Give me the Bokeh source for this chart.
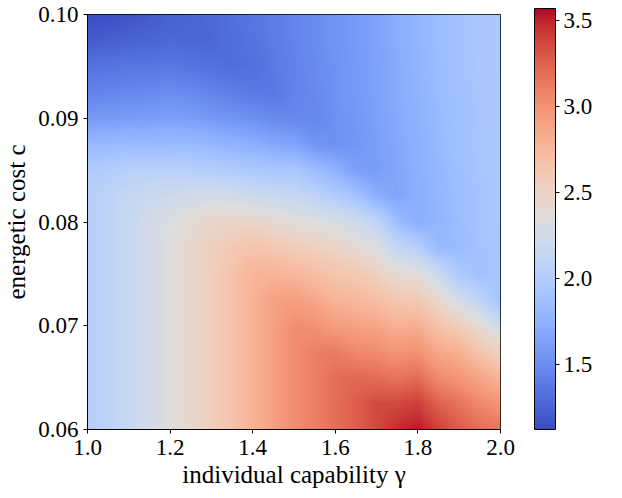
import numpy as np
from bokeh.plotting import figure
from bokeh.models import (LinearColorMapper, ColorBar, FixedTicker,
                          PrintfTickFormatter, Range1d)
from bokeh.embed import file_html
from bokeh.resources import INLINE

# ---- data (value grid) ----
gamma = [1.00, 1.05, 1.10, 1.15, 1.20, 1.25, 1.30, 1.35, 1.40, 1.45, 1.50,
         1.55, 1.60, 1.65, 1.70, 1.75, 1.80, 1.85, 1.90, 1.95, 2.00]
# energetic cost levels, top (0.100) to bottom (0.060)
cost = [0.1000, 0.0975, 0.0950, 0.0925, 0.0900, 0.0875, 0.0850, 0.0825, 0.0800,
        0.0775, 0.0750, 0.0725, 0.0700, 0.0675, 0.0650, 0.0625, 0.0600]

v_g100 = [1.13, 1.21, 1.34, 1.44, 1.58, 1.81, 1.98, 2.03, 2.02, 2.02, 2.02, 2.02, 2.02, 2.02, 2.02, 2.02, 2.02]
v_g105 = [1.14, 1.23, 1.35, 1.45, 1.59, 1.82, 2.01, 2.08, 2.08, 2.08, 2.08, 2.08, 2.08, 2.08, 2.08, 2.08, 2.08]
v_g110 = [1.16, 1.25, 1.36, 1.47, 1.60, 1.83, 2.05, 2.14, 2.15, 2.15, 2.15, 2.15, 2.15, 2.15, 2.15, 2.15, 2.15]
v_g115 = [1.20, 1.26, 1.36, 1.48, 1.61, 1.83, 2.05, 2.18, 2.25, 2.25, 2.25, 2.25, 2.25, 2.25, 2.25, 2.25, 2.25]
v_g120 = [1.24, 1.28, 1.37, 1.50, 1.63, 1.83, 2.05, 2.20, 2.33, 2.35, 2.35, 2.35, 2.35, 2.35, 2.35, 2.35, 2.35]
v_g125 = [1.26, 1.27, 1.35, 1.48, 1.61, 1.82, 2.04, 2.23, 2.40, 2.45, 2.45, 2.45, 2.45, 2.45, 2.45, 2.45, 2.45]
v_g130 = [1.28, 1.27, 1.33, 1.45, 1.58, 1.80, 2.02, 2.27, 2.47, 2.54, 2.54, 2.54, 2.54, 2.54, 2.54, 2.54, 2.54]
v_g135 = [1.32, 1.31, 1.31, 1.41, 1.55, 1.76, 1.99, 2.24, 2.47, 2.60, 2.66, 2.66, 2.66, 2.66, 2.66, 2.66, 2.66]
v_g140 = [1.36, 1.35, 1.33, 1.38, 1.52, 1.73, 1.96, 2.20, 2.48, 2.66, 2.77, 2.79, 2.79, 2.79, 2.79, 2.79, 2.79]
v_g145 = [1.40, 1.39, 1.38, 1.37, 1.48, 1.68, 1.94, 2.17, 2.43, 2.62, 2.78, 2.90, 2.90, 2.90, 2.90, 2.90, 2.90]
v_g150 = [1.44, 1.44, 1.43, 1.43, 1.46, 1.65, 1.95, 2.15, 2.38, 2.57, 2.75, 2.92, 3.03, 3.03, 3.03, 3.03, 3.03]
v_g155 = [1.49, 1.49, 1.48, 1.47, 1.46, 1.55, 1.85, 2.08, 2.34, 2.53, 2.70, 2.86, 3.00, 3.10, 3.10, 3.10, 3.10]
v_g160 = [1.54, 1.54, 1.53, 1.53, 1.52, 1.52, 1.76, 2.00, 2.30, 2.50, 2.64, 2.78, 2.93, 3.12, 3.19, 3.19, 3.19]
v_g165 = [1.59, 1.59, 1.58, 1.58, 1.57, 1.56, 1.62, 1.90, 2.22, 2.42, 2.60, 2.75, 2.90, 3.05, 3.22, 3.27, 3.27]
v_g170 = [1.64, 1.64, 1.63, 1.63, 1.62, 1.61, 1.60, 1.72, 2.12, 2.33, 2.53, 2.70, 2.87, 3.03, 3.20, 3.36, 3.36]
v_g175 = [1.71, 1.71, 1.70, 1.70, 1.69, 1.68, 1.67, 1.66, 1.85, 2.15, 2.40, 2.62, 2.80, 2.98, 3.16, 3.36, 3.47]
v_g180 = [1.78, 1.78, 1.77, 1.76, 1.75, 1.74, 1.73, 1.72, 1.72, 2.05, 2.37, 2.60, 2.82, 3.00, 3.20, 3.40, 3.53]
v_g185 = [1.84, 1.84, 1.83, 1.83, 1.82, 1.81, 1.80, 1.79, 1.78, 1.82, 2.20, 2.45, 2.66, 2.85, 3.05, 3.25, 3.40]
v_g190 = [1.89, 1.89, 1.88, 1.88, 1.87, 1.87, 1.86, 1.85, 1.84, 1.83, 1.95, 2.25, 2.56, 2.80, 2.98, 3.16, 3.28]
v_g195 = [1.93, 1.93, 1.93, 1.92, 1.92, 1.91, 1.91, 1.90, 1.90, 1.89, 1.88, 2.10, 2.40, 2.65, 2.88, 3.05, 3.20]
v_g200 = [1.97, 1.97, 1.97, 1.96, 1.96, 1.95, 1.95, 1.94, 1.94, 1.93, 1.92, 1.90, 2.22, 2.50, 2.78, 2.98, 3.15]

x_ticks = [1.0, 1.2, 1.4, 1.6, 1.8, 2.0]
y_ticks = [0.06, 0.07, 0.08, 0.09, 0.10]
cbar_ticks = [1.5, 2.0, 2.5, 3.0, 3.5]
v_low, v_high = 1.12, 3.57

# ---- coolwarm palette (matplotlib style) ----
cw_keys = [(59, 76, 192), (68, 90, 204), (77, 104, 215), (87, 117, 225), (98, 130, 234),
           (108, 142, 241), (119, 154, 247), (130, 165, 251), (141, 176, 254), (152, 185, 255),
           (163, 194, 255), (174, 201, 253), (184, 208, 249), (194, 213, 244), (204, 217, 238),
           (213, 219, 230), (221, 221, 221), (229, 216, 209), (236, 211, 197), (241, 204, 184),
           (245, 196, 173), (247, 187, 160), (247, 177, 148), (246, 165, 135), (244, 154, 123),
           (241, 141, 111), (236, 127, 99), (229, 112, 88), (222, 96, 77), (213, 80, 66),
           (203, 62, 56), (192, 40, 47), (180, 4, 38)]
kp = np.linspace(0, 1, len(cw_keys))
tt = np.linspace(0, 1, 256)
arr = np.array(cw_keys, dtype=float)
palette = ["#%02x%02x%02x" % tuple(int(round(np.interp(t, kp, arr[:, k]))) for k in range(3))
           for t in tt]

# ---- assemble grid (rows = cost ascending) ----
cols = [v_g100, v_g105, v_g110, v_g115, v_g120, v_g125, v_g130, v_g135, v_g140, v_g145, v_g150,
        v_g155, v_g160, v_g165, v_g170, v_g175, v_g180, v_g185, v_g190, v_g195, v_g200]
Z = np.array(cols, dtype=float).T[::-1]          # shape (len(cost), len(gamma)), cost ascending
cost_asc = np.array(cost[::-1])
gam = np.array(gamma)

FONT = "Liberation Serif"
W, H = 606, 490
LEFT, TOP, BOTTOM = 79, 14, 55
FW = 421
RIGHT = W - LEFT - FW
FH = H - TOP - BOTTOM

# smooth (bilinear) shading for display, like a gouraud-shaded image
NX, NY = FW, FH
xs = np.linspace(gam[0], gam[-1], NX)
ys = np.linspace(cost_asc[0], cost_asc[-1], NY)
tmp = np.array([np.interp(xs, gam, row) for row in Z])
img = np.array([np.interp(ys, cost_asc, tmp[:, j]) for j in range(NX)]).T

mapper = LinearColorMapper(palette=palette, low=v_low, high=v_high)

p = figure(width=W, height=H,
           x_range=Range1d(1.0, 2.0), y_range=Range1d(0.06, 0.10),
           output_backend="svg", toolbar_location=None,
           min_border_left=LEFT, min_border_top=TOP, min_border_bottom=BOTTOM,
           min_border_right=RIGHT)
p.image(image=[img], x=1.0, y=0.06, dw=1.0, dh=0.04, color_mapper=mapper)

p.grid.visible = False
p.outline_line_color = "black"
p.outline_line_alpha = 1.0
p.outline_line_width = 1

for ax in (p.xaxis, p.yaxis):
    ax.axis_line_color = "black"
    ax.major_tick_line_color = "black"
    ax.major_tick_out = 4
    ax.major_tick_in = 0
    ax.minor_tick_line_color = None
    ax.major_label_text_font = FONT
    ax.major_label_text_font_size = "23px"
    ax.major_label_text_color = "black"
    ax.axis_label_text_font = FONT
    ax.axis_label_text_font_size = "25px"
    ax.axis_label_text_font_style = "normal"
    ax.axis_label_text_color = "black"

p.xaxis.ticker = FixedTicker(ticks=x_ticks)
p.xaxis.formatter = PrintfTickFormatter(format="%.1f")
p.yaxis.ticker = FixedTicker(ticks=y_ticks)
p.yaxis.formatter = PrintfTickFormatter(format="%.2f")
p.xaxis.axis_label = "individual capability γ"
p.yaxis.axis_label = "energetic cost c"
p.xaxis.major_label_standoff = 6
p.xaxis.axis_label_standoff = 3
p.yaxis.major_label_standoff = 5
p.yaxis.axis_label_standoff = 5

cb = ColorBar(color_mapper=mapper,
              ticker=FixedTicker(ticks=cbar_ticks),
              formatter=PrintfTickFormatter(format="%.1f"),
              width=21, height=FH, padding=0, margin=0,
              location=(FW + 26, 0),
              bar_line_color="black", bar_line_width=1,
              major_tick_out=4, major_tick_in=0, major_tick_line_color="black",
              minor_tick_line_color=None,
              label_standoff=4,
              major_label_text_font=FONT, major_label_text_font_size="23px",
              major_label_text_color="black",
              border_line_color=None, background_fill_color=None)
p.add_layout(cb)

open("out.html", "w").write(file_html(p, INLINE))
